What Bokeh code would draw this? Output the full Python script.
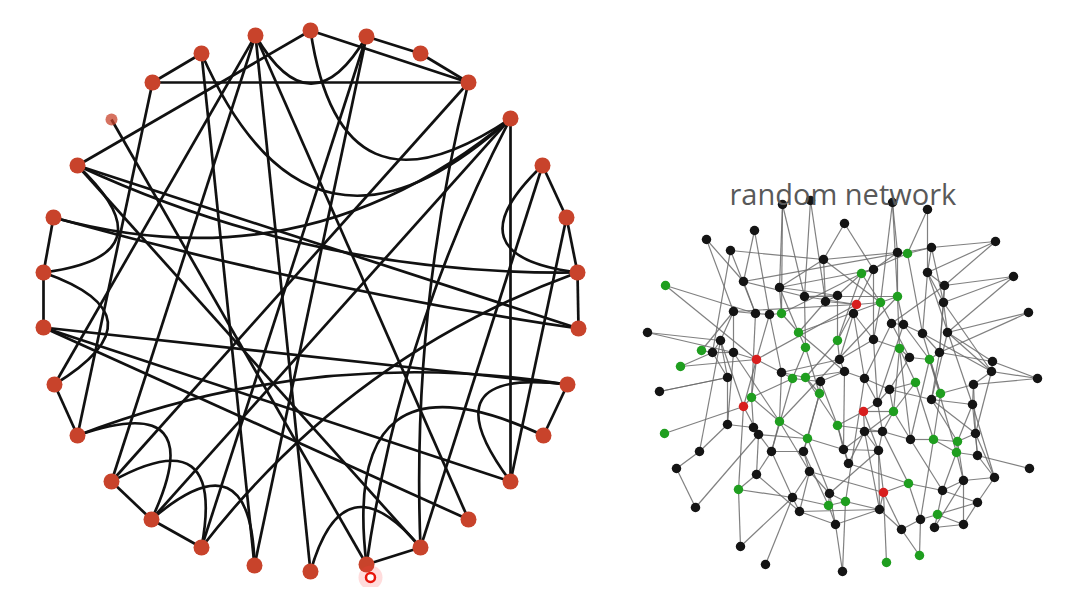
from bokeh.plotting import figure
from bokeh.models import Range1d
from bokeh.embed import file_html
from bokeh.resources import INLINE
from bokeh.core.properties import value

# ---------------- left: circular network (30 nodes, clockwise from top) ----------------
ring_x = [310, 366, 420, 468, 510, 542, 566, 577, 578, 567, 543, 510, 468, 420, 366,
          310, 254, 201, 151, 111, 77, 54, 43, 43, 53, 77, 111, 152, 201, 255]
ring_y = [30, 36, 53, 82, 118, 165, 217, 272, 328, 384, 435, 481, 519, 547, 564,
          571, 565, 547, 519, 481, 435, 384, 327, 272, 217, 165, 119, 82, 53, 35]
faded_ring_node = [26]

ring_straight = [(27, 28), (27, 3), (1, 2), (2, 3), (0, 3), (28, 16), (29, 12), (29, 19),
                 (0, 25), (1, 17), (1, 16), (3, 19), (4, 11), (4, 18), (5, 13),
                 (5, 6), (6, 7), (7, 8), (22, 9), (22, 11), (22, 12), (26, 14), (25, 13),
                 (25, 8), (24, 23), (23, 22), (20, 21), (18, 17), (18, 19), (14, 13),
                 (10, 9), (27, 20), (6, 11), (29, 21), (15, 29)]
ring_curved = [(29, 1), (0, 4), (28, 4), (24, 4), (25, 7), (5, 7), (11, 9), (10, 14),
               (15, 13), (18, 16), (19, 17), (20, 18), (23, 25), (20, 9),
               (7, 17), (14, 4), (21, 23), (24, 8), (3, 13)]
ring_bend = [0.36, 0.7, 1.0, 0.9, 0.7, 0.45, 0.5, 0.8, 0.4, 0.45, 0.45, 0.5, 0.45,
             0.6, 0.5, 0.3, 0.45, 0.6, 0.25]

cursor_x = [370]
cursor_y = [577]

# ---------------- right: random network ----------------
net_x = [782, 810, 844, 754, 706, 730, 823, 665, 743, 779, 804, 837, 825, 733, 755, 769,
         781, 647, 798, 720, 837, 805, 701, 712, 733, 756, 680, 839, 844, 781, 792, 805,
         727, 892, 927, 995, 897, 907, 931, 873, 861, 927, 1013, 944, 897, 856, 880, 943,
         853, 1028, 891, 903, 922, 947, 873, 899, 909, 929, 939, 992, 991, 864, 1037, 915,
         659, 751, 743, 820, 819, 664, 727, 753, 758, 779, 807, 837, 843, 699, 771, 803,
         848, 676, 809, 756, 738, 792, 829, 845, 828, 799, 695, 835, 740, 765, 842, 889,
         940, 931, 973, 877, 863, 893, 972, 864, 882, 910, 933, 957, 975, 956, 977, 878,
         1029, 994, 963, 908, 942, 883, 977, 879, 937, 920, 934, 963, 901, 919, 886]
net_y = [204, 200, 223, 230, 239, 250, 259, 285, 281, 287, 296, 295, 301, 311, 313, 314,
         313, 332, 332, 340, 340, 347, 350, 352, 352, 359, 366, 359, 371, 372, 378, 377,
         377, 202, 209, 241, 252, 253, 247, 269, 273, 272, 276, 285, 296, 304, 302, 302,
         313, 312, 323, 324, 333, 332, 339, 348, 357, 359, 352, 361, 371, 378, 378, 382,
         391, 397, 406, 381, 393, 433, 424, 427, 434, 421, 438, 425, 449, 451, 451, 451,
         463, 468, 471, 474, 489, 497, 493, 501, 505, 511, 507, 524, 546, 564, 571, 389,
         393, 399, 384, 402, 411, 411, 404, 431, 431, 439, 439, 441, 433, 452, 455, 450,
         468, 477, 480, 483, 490, 492, 502, 509, 514, 519, 527, 524, 529, 555, 562]
net_kind = ["k", "k", "k", "k", "k", "k", "k", "g", "k", "k", "k", "k", "k", "k", "k", "k",
            "g", "k", "g", "k", "g", "g", "g", "k", "k", "r", "g", "k", "k", "k", "g", "g",
            "k", "k", "k", "k", "k", "g", "k", "k", "g", "k", "k", "k", "g", "r", "g", "k",
            "k", "k", "k", "k", "k", "k", "k", "g", "k", "g", "k", "k", "k", "k", "k", "g",
            "k", "g", "r", "k", "g", "g", "k", "k", "k", "g", "g", "g", "k", "k", "k", "k",
            "k", "k", "k", "k", "g", "k", "k", "g", "g", "k", "k", "k", "k", "k", "k", "k",
            "g", "k", "k", "k", "r", "g", "k", "k", "k", "k", "g", "g", "k", "g", "k", "k",
            "k", "k", "k", "g", "k", "r", "k", "k", "g", "k", "k", "k", "k", "g", "g"]
net_edges = [
    (0, 16), (0, 9), (1, 10), (1, 12), (2, 6), (2, 39), (3, 15), (3, 8), (4, 8), (4, 13),
    (5, 6), (5, 23), (5, 14), (6, 9), (6, 12), (6, 36), (7, 25), (7, 14), (8, 14), (8, 10),
    (9, 16), (9, 18), (9, 11), (10, 11), (10, 21), (10, 44), (11, 12), (11, 40), (11, 20),
    (12, 18), (12, 45), (13, 14), (13, 24), (13, 19), (14, 15), (14, 65), (15, 16), (15, 29),
    (16, 18), (16, 40), (17, 24), (17, 19), (18, 21), (18, 46), (18, 28), (19, 32), (19, 23),
    (20, 27), (20, 45), (20, 31), (21, 30), (21, 68), (22, 23), (22, 13), (23, 32), (23, 24),
    (24, 25), (24, 70), (25, 29), (25, 66), (25, 65), (26, 25), (26, 23), (27, 28), (27, 54),
    (27, 29), (28, 31), (28, 61), (28, 76), (29, 30), (29, 73), (29, 31), (30, 67), (30, 78),
    (31, 68), (31, 75), (32, 70), (32, 64), (33, 46), (33, 36), (34, 37), (34, 41), (35, 43),
    (35, 38), (36, 37), (36, 39), (36, 44), (37, 38), (37, 52), (37, 40), (38, 41), (38, 47),
    (39, 40), (39, 45), (39, 54), (40, 46), (40, 20), (41, 47), (41, 43), (41, 52), (42, 47),
    (42, 53), (43, 47), (43, 58), (43, 50), (44, 46), (44, 51), (44, 55), (45, 46), (45, 48),
    (45, 25), (46, 50), (46, 54), (47, 53), (47, 58), (47, 60), (48, 54), (48, 61), (48, 27),
    (49, 53), (49, 58), (50, 51), (50, 56), (50, 61), (51, 52), (51, 57), (51, 99), (52, 58),
    (52, 96), (53, 59), (53, 97), (54, 55), (54, 99), (55, 56), (55, 63), (55, 101), (56, 57),
    (56, 95), (57, 58), (57, 96), (57, 105), (58, 59), (58, 97), (59, 60), (59, 62), (60, 98),
    (60, 108), (60, 53), (61, 95), (61, 99), (61, 87), (62, 98), (62, 60), (63, 95), (63, 106),
    (63, 101), (64, 32), (65, 66), (65, 73), (65, 71), (66, 69), (66, 72), (66, 84), (67, 68),
    (67, 75), (67, 28), (68, 74), (68, 79), (70, 71), (70, 77), (71, 72), (71, 78), (72, 83),
    (72, 90), (73, 74), (73, 78), (73, 82), (74, 79), (74, 76), (74, 86), (75, 76), (75, 100),
    (75, 80), (76, 80), (76, 111), (77, 81), (77, 19), (78, 79), (78, 85), (78, 83), (79, 82),
    (79, 88), (80, 103), (81, 90), (82, 86), (82, 89), (82, 85), (83, 84), (83, 89), (84, 85),
    (84, 92), (85, 89), (85, 92), (85, 93), (85, 88), (86, 87), (86, 91), (86, 88), (87, 88),
    (87, 119), (87, 94), (88, 91), (89, 91), (91, 94), (91, 119), (95, 97), (95, 99), (95, 101),
    (96, 97), (96, 98), (96, 106), (97, 102), (97, 107), (98, 102), (98, 108), (99, 100),
    (99, 104), (100, 101), (100, 103), (100, 111), (101, 105), (101, 104), (102, 107),
    (102, 110), (102, 113), (103, 104), (103, 111), (103, 119), (104, 105), (104, 115),
    (104, 111), (105, 106), (105, 116), (106, 107), (106, 109), (106, 121), (107, 108),
    (107, 109), (107, 114), (108, 110), (108, 113), (109, 110), (109, 114), (109, 116),
    (110, 112), (110, 113), (111, 117), (111, 119), (113, 118), (113, 114), (114, 116),
    (114, 123), (115, 116), (115, 117), (115, 121), (116, 118), (116, 120), (117, 119),
    (117, 124), (117, 126), (118, 123), (118, 120), (119, 124), (120, 121), (120, 122),
    (120, 123), (121, 124), (121, 125), (122, 123), (122, 114), (124, 125),
    (13, 45), (24, 73), (8, 38), (19, 66), (0, 10), (9, 39), (44, 73), (75, 104), (80, 115),
    (82, 117), (89, 119), (76, 101), (30, 65), (72, 74), (86, 111), (102, 41), (52, 60),
    (57, 109), (55, 105), (97, 108), (6, 46), (10, 45), (15, 25), (35, 41), (42, 43), (33, 44)]
net_title = "random network"

kind_color = {"k": "#141414", "g": "#1f9e1f", "r": "#d81e1e"}
ring_node_color = "#c8432b"

# ---------------- figure ----------------
W, H = 1054, 587
p = figure(width=W, height=H, output_backend="svg", toolbar_location=None,
           x_range=Range1d(0, W), y_range=Range1d(H, 0),
           min_border=0, outline_line_color=None)
p.axis.visible = False
p.grid.visible = False
p.background_fill_color = "white"
p.border_fill_color = "white"

# right network edges
p.segment(x0=[net_x[a] for a, b in net_edges], y0=[net_y[a] for a, b in net_edges],
          x1=[net_x[b] for a, b in net_edges], y1=[net_y[b] for a, b in net_edges],
          line_color="#6a6a6a", line_width=1.2, line_alpha=0.85)
p.scatter(x=net_x, y=net_y, size=9.5, marker="circle",
          fill_color=[kind_color[k] for k in net_kind], line_color=None)

# left network edges
cx = sum(ring_x) / len(ring_x)
cy = sum(ring_y) / len(ring_y)
p.segment(x0=[ring_x[a] for a, b in ring_straight], y0=[ring_y[a] for a, b in ring_straight],
          x1=[ring_x[b] for a, b in ring_straight], y1=[ring_y[b] for a, b in ring_straight],
          line_color="#111111", line_width=2.7)
qx0, qy0, qx1, qy1, qcx, qcy = [], [], [], [], [], []
for (a, b), k in zip(ring_curved, ring_bend):
    mx = (ring_x[a] + ring_x[b]) / 2
    my = (ring_y[a] + ring_y[b]) / 2
    qx0.append(ring_x[a]); qy0.append(ring_y[a])
    qx1.append(ring_x[b]); qy1.append(ring_y[b])
    qcx.append(mx + k * (cx - mx)); qcy.append(my + k * (cy - my))
p.quadratic(x0=qx0, y0=qy0, x1=qx1, y1=qy1, cx=qcx, cy=qcy,
            line_color="#111111", line_width=2.7)

# left nodes
sizes = [12 if i in faded_ring_node else 16 for i in range(len(ring_x))]
alphas = [0.75 if i in faded_ring_node else 1.0 for i in range(len(ring_x))]
p.scatter(x=ring_x, y=ring_y, size=sizes, marker="circle", fill_color=ring_node_color,
          fill_alpha=alphas, line_color=None)

# cursor highlight
p.scatter(x=cursor_x, y=cursor_y, size=24, marker="circle", fill_color="#ff3b3b",
          fill_alpha=0.18, line_color=None)
p.scatter(x=cursor_x, y=cursor_y, size=9, marker="circle", fill_color="white",
          line_color="#e8160c", line_width=2.5)

# title of right network
p.text(x=[729], y=[193], text=[net_title], text_font=value("Open Sans"),
       text_font_size="29px", text_color="#595959", text_baseline="alphabetic",
       text_align="left")

open("out.html", "w").write(file_html(p, INLINE))
